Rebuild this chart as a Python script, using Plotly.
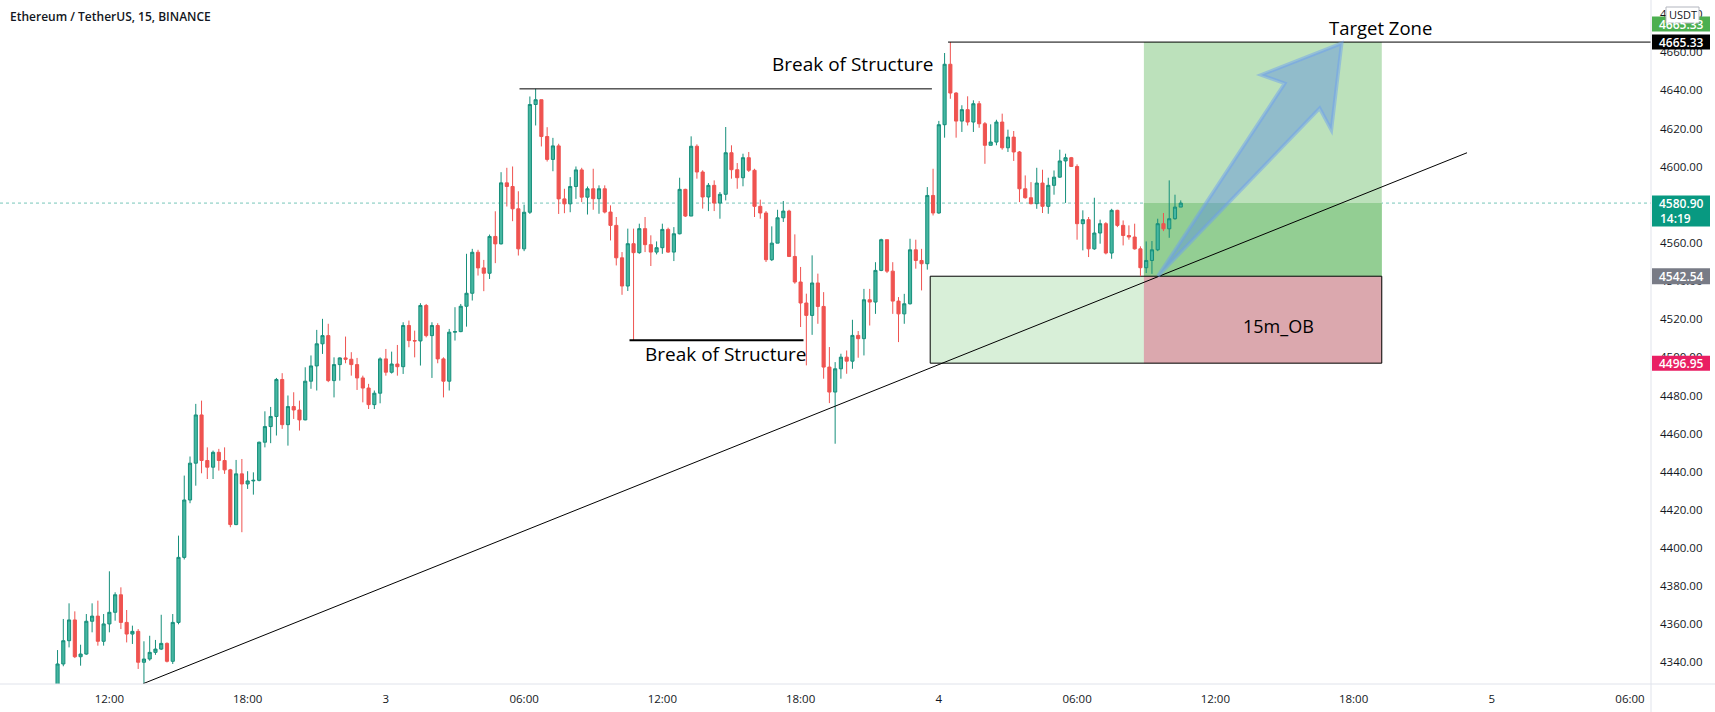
import plotly.graph_objects as go

# ---------------- data (15m candles, index 0 = day 2 12:00) ----------------
candle_index = list(range(-9, 187))

open_ = [
    4326, 4339.2, 4351.4, 4362.3, 4343, 4344.4, 4361.6, 4364.3, 4351.1, 4360.2,
    4366.3, 4375.5, 4361, 4354.9, 4356.3, 4340.1, 4341.8, 4345.3, 4347, 4350,
    4340.6, 4361, 4395.1, 4425.2, 4444.5, 4469.8, 4445.9, 4442.4, 4450.2, 4445.9,
    4441, 4412.3, 4438.9, 4433.6, 4435.2, 4435.5, 4455.5, 4463.7, 4469, 4488.4,
    4464.7, 4474.2, 4472.4, 4467.2, 4487.5, 4495.5, 4507.1, 4511.4, 4487.8, 4496.2,
    4499.7, 4499, 4496.2, 4489.2, 4483.9, 4475.2, 4481.2, 4499.2, 4492.2, 4496.5,
    4495.1, 4516.7, 4508.8, 4508.6, 4527.2, 4511.4, 4516.7, 4499.2, 4487.5, 4513.2,
    4513.5, 4526.8, 4533.6, 4555.1, 4546.9, 4544.1, 4563.4, 4559.5, 4591.5, 4589.6,
    4577.9, 4556.9, 4576.1, 4632.6, 4635.1, 4615.8, 4603.8, 4610.9, 4583.1, 4580.5,
    4589.6, 4598.3, 4584, 4588.4, 4583.2, 4588.4, 4576.2, 4569.2, 4552.2, 4537.4,
    4559.6, 4554.9, 4567.5, 4559.1, 4555.2, 4557.5, 4567.1, 4555.2, 4564.8, 4588.1,
    4574.1, 4610.7, 4597.2, 4584.1, 4590.2, 4580.9, 4585.5, 4607.3, 4598.4, 4594.2,
    4604.7, 4598.1, 4579.2, 4575.7, 4551.2, 4559.9, 4573.2, 4576.7, 4552.9, 4539.5,
    4528.5, 4522, 4539, 4526.7, 4494.9, 4481.8, 4494, 4500.1, 4498, 4511.5,
    4509.8, 4530.2, 4529, 4545.6, 4561.7, 4545.2, 4529.5, 4522.8, 4528.1, 4556.4,
    4550.8, 4549.1, 4584.9, 4575.7, 4622, 4653.7, 4638.6, 4623.9, 4629.9, 4623.4,
    4633, 4622.5, 4611.2, 4612.9, 4623.4, 4609.9, 4615.5, 4607.7, 4588.4, 4583.7,
    4580.6, 4591.4, 4579.2, 4590.2, 4594.5, 4603, 4604.7, 4600.1, 4570.1, 4572.2,
    4556.9, 4565.2, 4570.1, 4554.7, 4577.1, 4569.2, 4563.9, 4563.1, 4556.9, 4547,
    4550.8, 4556.4, 4570.1, 4567.4, 4572.7, 4578.8,
]
high_ = [
    4346.5, 4362.8, 4371, 4366.8, 4349.3, 4365.4, 4371, 4372.4, 4365.4, 4387.8,
    4376.8, 4379.4, 4367.5, 4359.3, 4357.5, 4351.1, 4354, 4351.8, 4365, 4350.5,
    4365.4, 4406.5, 4438, 4448, 4475.6, 4477.3, 4452.8, 4451.1, 4452, 4452.8,
    4441.5, 4446.2, 4446.7, 4440.3, 4439.7, 4455.8, 4471.7, 4474, 4489.2, 4491.7,
    4480, 4481.7, 4477.3, 4494.8, 4501, 4514.4, 4520.2, 4517.6, 4500, 4500,
    4510.9, 4502.7, 4499.7, 4490.4, 4486.1, 4482.6, 4500, 4504.4, 4503, 4506.5,
    4518.4, 4519.3, 4514, 4528.4, 4528, 4518.4, 4517.9, 4500, 4514.9, 4526.3,
    4528, 4554.3, 4556.9, 4556.4, 4551.1, 4564.4, 4576.6, 4597.1, 4599.4, 4600.1,
    4587.1, 4580.1, 4636.8, 4640.8, 4635.1, 4620.7, 4615.1, 4612, 4588.4, 4594.5,
    4600.1, 4599.4, 4589.6, 4598.9, 4590.2, 4590.2, 4579.7, 4573.6, 4555.2, 4567.5,
    4567.5, 4570.1, 4573.6, 4564, 4560.8, 4570.1, 4568, 4568.3, 4594.2, 4588.4,
    4615.9, 4611.7, 4598.1, 4591.4, 4592.8, 4586.7, 4620.8, 4611.2, 4601.9, 4606.8,
    4607.7, 4598.9, 4582.7, 4576.7, 4568.7, 4577.4, 4582, 4577.4, 4564.5, 4547.4,
    4533.4, 4553.5, 4543.9, 4534.2, 4505.4, 4497.5, 4501.9, 4503.6, 4519.7, 4513.8,
    4535.9, 4535.9, 4549.9, 4562.2, 4561.7, 4549.9, 4531.6, 4533.3, 4562.2, 4561.7,
    4556.9, 4589.3, 4598.9, 4624, 4659.6, 4665.33, 4639.1, 4632.2, 4636.9, 4634.8,
    4634.4, 4623.4, 4622.2, 4624.6, 4627.8, 4619.4, 4618.7, 4608.2, 4595.4, 4591.9,
    4599.4, 4598.4, 4594.2, 4598, 4608.9, 4606.8, 4605.1, 4601.2, 4577.1, 4573.6,
    4583.7, 4572.2, 4570.9, 4577.9, 4577.4, 4571.8, 4569.2, 4570.1, 4558.2, 4560.8,
    4561, 4572.7, 4575.7, 4592.8, 4585.3, 4582.3,
]
low_ = [
    4324, 4338, 4347.9, 4342.3, 4338.3, 4344, 4355.8, 4348.8, 4348.8, 4355.8,
    4361.9, 4357.5, 4350.5, 4349.7, 4336.6, 4329, 4340.9, 4344, 4346.5, 4340,
    4339.2, 4360, 4394, 4423.5, 4432.7, 4439.2, 4436.2, 4436.2, 4440.6, 4438.9,
    4410.9, 4412, 4408.3, 4431, 4428, 4435, 4452.8, 4455, 4459, 4462.5,
    4453.7, 4467.7, 4461.6, 4467, 4483.5, 4482.6, 4501.8, 4487, 4479, 4487.8,
    4496.9, 4490.4, 4482.9, 4476.4, 4472.9, 4472.9, 4475.9, 4490.4, 4491.5, 4490.4,
    4491.3, 4505.3, 4500, 4495.7, 4510.5, 4489.2, 4496.9, 4479, 4482.6, 4508.8,
    4513.2, 4516.1, 4529.8, 4542.9, 4534.7, 4541.1, 4549.4, 4559.2, 4579.1, 4571.4,
    4553.4, 4555.7, 4575.2, 4621.6, 4610.6, 4602.7, 4597.6, 4575.2, 4575.6, 4576.1,
    4583.1, 4581.4, 4574.9, 4577.4, 4575.3, 4575.5, 4561.3, 4548.2, 4532.8, 4534.8,
    4508.9, 4554.3, 4555.2, 4547.9, 4554, 4554.3, 4554.8, 4550.5, 4564.5, 4573.6,
    4574.1, 4593.7, 4578, 4576.7, 4576.7, 4572.7, 4582.3, 4593.7, 4588.4, 4589.7,
    4597.2, 4573.6, 4572.7, 4550, 4550.5, 4559.9, 4571, 4552.6, 4538.6, 4515.9,
    4495.8, 4511.8, 4517.6, 4488.8, 4476, 4454.7, 4488.8, 4491.4, 4494, 4499.8,
    4501, 4516.7, 4522.8, 4545.2, 4544.2, 4522.8, 4508, 4517.6, 4527.7, 4546.5,
    4535.1, 4546, 4574.4, 4575.3, 4615.2, 4635.6, 4615.2, 4618.2, 4621.6, 4618.2,
    4620.4, 4601.5, 4611.2, 4611.2, 4608.9, 4607.7, 4603, 4581.4, 4583.2, 4580.2,
    4577.9, 4575.7, 4575.3, 4585.3, 4594.2, 4581, 4599.8, 4561.7, 4556.1, 4552.6,
    4556.4, 4559.6, 4554, 4551.7, 4568.3, 4558.7, 4561.7, 4556.5, 4542.54, 4544.2,
    4543.8, 4555.7, 4566.2, 4562.7, 4572.2, 4578.8,
]
close_ = [
    4339.2, 4351.4, 4362.3, 4343, 4344.4, 4361.6, 4364.3, 4351.1, 4360.2, 4366.3,
    4375.5, 4361, 4354.9, 4356.3, 4340.1, 4341.8, 4345.3, 4347, 4350, 4340.6,
    4361, 4395.1, 4425.2, 4444.5, 4469.8, 4445.9, 4442.4, 4450.2, 4445.9, 4441,
    4412.3, 4438.9, 4433.6, 4435.2, 4435.5, 4455.5, 4463.7, 4469, 4488.4, 4464.7,
    4474.2, 4472.4, 4467.2, 4487.5, 4495.5, 4507.1, 4511.4, 4487.8, 4496.2, 4499.7,
    4499, 4496.2, 4489.2, 4483.9, 4475.2, 4481.2, 4499.2, 4492.2, 4496.5, 4495.1,
    4516.7, 4508.8, 4508.6, 4527.2, 4511.4, 4516.7, 4499.2, 4487.5, 4513.2, 4513.5,
    4526.8, 4533.6, 4555.1, 4546.9, 4544.1, 4563.4, 4559.5, 4591.5, 4589.6, 4577.9,
    4556.9, 4576.1, 4632.6, 4635.1, 4615.8, 4603.8, 4610.9, 4583.1, 4580.5, 4589.6,
    4598.3, 4584, 4588.4, 4583.2, 4588.4, 4576.2, 4569.2, 4552.2, 4537.4, 4559.6,
    4554.9, 4567.5, 4559.1, 4555.2, 4557.5, 4567.1, 4555.2, 4564.8, 4588.1, 4574.1,
    4610.7, 4597.2, 4584.1, 4590.2, 4580.9, 4585.5, 4607.3, 4598.4, 4594.2, 4604.7,
    4598.1, 4579.2, 4575.7, 4551.2, 4559.9, 4573.2, 4576.7, 4552.9, 4539.5, 4528.5,
    4522, 4539, 4526.7, 4494.9, 4481.8, 4494, 4500.1, 4498, 4511.5, 4509.8,
    4530.2, 4529, 4545.6, 4561.7, 4545.2, 4529.5, 4522.8, 4528.1, 4556.4, 4550.8,
    4549.1, 4584.9, 4575.7, 4622, 4653.7, 4638.6, 4623.9, 4629.9, 4623.4, 4633,
    4622.5, 4611.2, 4612.9, 4623.4, 4609.9, 4615.5, 4607.7, 4588.4, 4583.7, 4580.6,
    4591.4, 4579.2, 4590.2, 4594.5, 4603, 4604.7, 4600.1, 4570.1, 4572.2, 4556.9,
    4565.2, 4570.1, 4554.7, 4577.1, 4569.2, 4563.9, 4563.1, 4556.9, 4547, 4550.8,
    4556.4, 4570.1, 4567.4, 4572.7, 4578.8, 4580.9,
]

x_tick_vals = [0, 24, 48, 72, 96, 120, 144, 168, 192, 216, 240, 264]
x_tick_text = ["12:00", "18:00", "3", "06:00", "12:00", "18:00", "4",
               "06:00", "12:00", "18:00", "5", "06:00"]
y_tick_vals = list(range(4340, 4700, 20))
y_tick_text = [f"{v:.2f}" for v in y_tick_vals]

last_price = 4580.90
entry_price = 4542.54
target_price = 4665.33
stop_price = 4496.95
bos_high = 4640.8
bos_low = 4509.0

# ---------------- layout geometry ----------------
W, H = 1715, 712
PLOT_W, PLOT_H = 1651, 684
X_RANGE = [-18.99, 267.64]
Y_RANGE = [4328.7, 4687.4]


def py(price):
    """price -> pixel row (from top of plot area)"""
    return (Y_RANGE[1] - price) / (Y_RANGE[1] - Y_RANGE[0]) * PLOT_H


def yp(pix):
    """pixel row -> paper y"""
    return 1 - pix / PLOT_H


def xp(pix):
    return pix / PLOT_W


UP_FILL, UP_LINE = "#45b6a1", "#168f7b"
DOWN = "#ef5350"
FONT = "Open Sans"
TXT = "#131722"

fig = go.Figure()
fig.add_trace(go.Candlestick(
    x=candle_index, open=open_, high=high_, low=low_, close=close_,
    increasing=dict(line=dict(color=UP_LINE, width=1), fillcolor=UP_FILL),
    decreasing=dict(line=dict(color=DOWN, width=1), fillcolor=DOWN),
    whiskerwidth=0, hoverinfo="skip", showlegend=False,
))

shapes = []
# zones (below candles)
ob_x0, ob_x1, pos_x0 = 142.5, 220.9, 179.6
shapes.append(dict(type="rect", xref="x", yref="y", x0=ob_x0, x1=ob_x1,
                   y0=stop_price, y1=entry_price, fillcolor="#d8efd8",
                   line=dict(width=0), layer="below"))
shapes.append(dict(type="rect", xref="x", yref="y", x0=pos_x0, x1=ob_x1,
                   y0=stop_price, y1=entry_price, fillcolor="#dba8ae",
                   line=dict(width=0), layer="below"))
shapes.append(dict(type="rect", xref="x", yref="y", x0=pos_x0, x1=ob_x1,
                   y0=entry_price, y1=target_price, fillcolor="#bce1bb",
                   line=dict(width=0), layer="below"))
shapes.append(dict(type="rect", xref="x", yref="y", x0=pos_x0, x1=ob_x1,
                   y0=entry_price, y1=last_price, fillcolor="#93ce93",
                   line=dict(width=0), layer="below"))
shapes.append(dict(type="rect", xref="x", yref="y", x0=ob_x0, x1=ob_x1,
                   y0=stop_price, y1=entry_price, fillcolor="rgba(0,0,0,0)",
                   line=dict(color="#000000", width=1), layer="below"))
# current price dotted line
shapes.append(dict(type="line", xref="paper", yref="y", x0=0, x1=1,
                   y0=last_price, y1=last_price,
                   line=dict(color="rgba(8,153,129,0.55)", width=1, dash="dot"),
                   layer="below"))
# drawings above
shapes.append(dict(type="line", xref="x", yref="y", x0=5.89, y0=4328.9,
                   x1=235.7, y1=4607.3, line=dict(color="#000000", width=1)))
shapes.append(dict(type="line", xref="x", yref="y", x0=71.2, x1=142.8,
                   y0=bos_high, y1=bos_high, line=dict(color="#000000", width=1)))
shapes.append(dict(type="line", xref="x", yref="y", x0=90.3, x1=120.5,
                   y0=bos_low, y1=bos_low, line=dict(color="#000000", width=2)))
shapes.append(dict(type="line", xref="x", yref="y", x0=145.6, x1=X_RANGE[1],
                   y0=target_price, y1=target_price,
                   line=dict(color="#000000", width=1)))
# arrow
arrow_pts = [(182.05, 4542.7), (204.06, 4643.7), (199.93, 4648.1),
             (213.94, 4664.7), (212.15, 4619.2), (210.12, 4630.6)]
path = "M " + " L ".join(f"{a},{b}" for a, b in arrow_pts) + " Z"
shapes.append(dict(type="path", xref="x", yref="y", path=path,
                   fillcolor="rgba(93,145,223,0.45)",
                   line=dict(color="rgba(110,160,240,0.5)", width=3.5)))

# axis separator lines
shapes.append(dict(type="line", xref="paper", yref="paper", x0=0, x1=W / PLOT_W,
                   y0=0, y1=0, line=dict(color="#e0e3eb", width=1)))
shapes.append(dict(type="line", xref="paper", yref="paper", x0=1, x1=1,
                   y0=-(H - PLOT_H) / PLOT_H, y1=1,
                   line=dict(color="#e0e3eb", width=1)))

annotations = []

# price labels on the axis
LBL_X0, LBL_X1 = 1652, 1710


def price_box(center_pix, h, color):
    shapes.append(dict(type="rect", xref="paper", yref="paper",
                       x0=xp(LBL_X0), x1=xp(LBL_X1),
                       y0=yp(center_pix + h / 2), y1=yp(center_pix - h / 2),
                       fillcolor=color, line=dict(width=0), layer="above"))


def box_text(text, center_pix, color="#ffffff", xanchor="center", xpix=None,
             size=12, weight=600):
    annotations.append(dict(xref="paper", yref="paper",
                            x=xp(xpix if xpix is not None else (LBL_X0 + LBL_X1) / 2),
                            y=yp(center_pix), text=text, showarrow=False,
                            xanchor=xanchor, yanchor="middle",
                            font=dict(family=FONT, size=size, color=color,
                                      weight=weight)))


tgt_pix = py(target_price)
price_box(tgt_pix - 18, 15, "#4caf50")
box_text(f"{target_price:.2f}", tgt_pix - 18)
price_box(tgt_pix, 15, "#000000")
box_text(f"{target_price:.2f}", tgt_pix)
lp = py(last_price)
price_box(lp + 8, 31, "#089981")
box_text(f"{last_price:.2f}", lp + 0.5)
box_text("14:19", lp + 15.5, xanchor="left", xpix=1658)
price_box(py(entry_price), 16, "#787b86")
box_text(f"{entry_price:.2f}", py(entry_price))
price_box(py(stop_price), 15, "#e91e63")
box_text(f"{stop_price:.2f}", py(stop_price))
# USDT badge
shapes.append(dict(type="rect", xref="paper", yref="paper",
                   x0=xp(1666), x1=xp(1699), y0=yp(23), y1=yp(7),
                   fillcolor="#ffffff", line=dict(color="#b2b5be", width=1),
                   layer="above"))
box_text("USDT", 15, color=TXT, xpix=1682.5, size=11, weight=400)

# title
annotations.append(dict(xref="paper", yref="paper", x=xp(8), y=yp(16),
                        text="Ethereum / TetherUS, 15, BINANCE", showarrow=False,
                        xanchor="left", yanchor="middle",
                        font=dict(family=FONT, size=12, color=TXT, weight=600)))


# drawing texts
def label(text, x, y, size):
    annotations.append(dict(xref="x", yref="y", x=x, y=y, text=text,
                            showarrow=False, xanchor="center", yanchor="middle",
                            font=dict(family=FONT, size=size, color="#000000")))


label("Break of Structure", 129.1, 4653.6, 19)
label("Break of Structure", 107.05, 4501.8, 19)
label("15m_OB", 203.0, 4516.4, 18)
label("Target Zone", 220.6, 4673.1, 18.5)

fig.update_layout(
    width=W, height=H,
    margin=dict(l=0, r=W - PLOT_W, t=0, b=H - PLOT_H),
    paper_bgcolor="#ffffff", plot_bgcolor="#ffffff",
    showlegend=False, shapes=shapes, annotations=annotations,
    boxgap=0.22,
    xaxis=dict(range=X_RANGE, tickvals=x_tick_vals, ticktext=x_tick_text,
               showgrid=False, zeroline=False, showline=False, ticks="",
               rangeslider=dict(visible=False), ticklabelstandoff=6,
               tickfont=dict(family=FONT, size=11.5, color=TXT), fixedrange=True),
    yaxis=dict(range=Y_RANGE, side="right", tickvals=y_tick_vals,
               ticktext=y_tick_text, showgrid=False, zeroline=False,
               showline=False, ticks="", ticklabelstandoff=8,
               tickfont=dict(family=FONT, size=11.5, color=TXT), fixedrange=True),
)

fig.write_html("out.html")
